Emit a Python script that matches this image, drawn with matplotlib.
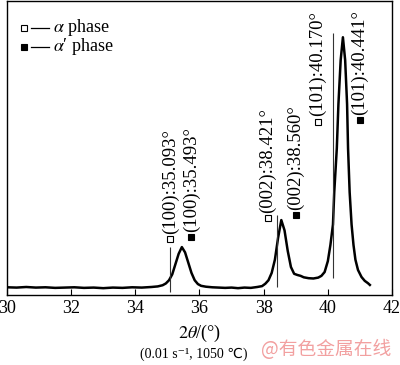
import matplotlib
matplotlib.use("Agg")
import matplotlib.pyplot as plt
import numpy as np

# XRD pattern (2theta in degrees, intensity in arbitrary units)
two_theta = [30.0, 30.3, 30.6, 30.9, 31.2, 31.5, 31.8, 32.1, 32.4, 32.7, 33.0, 33.3,
             33.6, 33.9, 34.2, 34.5, 34.7, 34.85, 34.95, 35.05, 35.15, 35.25, 35.35,
             35.45, 35.55, 35.65, 35.75, 35.85, 35.95, 36.05, 36.2, 36.4, 36.6, 36.8,
             37.0, 37.2, 37.4, 37.6, 37.8, 37.95, 38.05, 38.15, 38.25, 38.35, 38.45,
             38.55, 38.65, 38.75, 38.85, 38.95, 39.05, 39.15, 39.25, 39.4, 39.55, 39.7,
             39.8, 39.9, 40.0, 40.08, 40.16, 40.2, 40.28, 40.33, 40.4, 40.47, 40.54,
             40.6, 40.63, 40.68, 40.74, 40.8, 40.86, 40.94, 41.05, 41.15, 41.25, 41.31]
intensity = [2.6, 2.5, 2.7, 2.5, 2.6, 2.4, 2.5, 2.6, 2.4, 2.5, 2.3, 2.5,
             2.4, 2.6, 2.5, 2.7, 2.9, 3.3, 3.9, 5.0, 7.0, 10.5, 14.0,
             16.3, 14.5, 11.0, 7.5, 5.0, 3.7, 3.1, 2.8, 2.6, 2.5, 2.4,
             2.5, 2.3, 2.5, 2.4, 2.7, 3.0, 3.8, 5.0, 7.5, 12.0, 19.5,
             25.5, 22.0, 15.0, 9.5, 7.2, 6.8, 6.5, 6.0, 5.7, 5.6, 5.9,
             6.5, 7.8, 11.5, 17.0, 24.0, 35.0, 50.0, 65.0, 80.0, 87.8, 80.0,
             65.0, 50.0, 35.0, 24.0, 17.0, 12.0, 8.5, 6.1, 4.8, 4.0, 3.4]

# reference peak positions: (position, line bottom, line top)
ref_pos = [35.093, 38.421, 40.170]
ref_bottom = [0.9, 2.7, 5.8]
ref_top = [16.3, 27.2, 89.1]

# peak labels
label_text = ["(100):35.093°", "(100):35.493°", "(002):38.421°",
              "(002):38.560°", "(101):40.170°", "(101):40.441°"]
label_x = [35.09, 35.74, 38.13, 39.0, 39.68, 41.0]
label_y = [19.0, 19.7, 26.2, 27.2, 59.0, 59.6]
label_filled = [False, True, False, True, False, True]

plt.rcParams['font.family'] = ['Liberation Serif', 'DejaVu Sans']
plt.rcParams['mathtext.fontset'] = 'stix'

fig = plt.figure(figsize=(4.0, 3.65), dpi=100)
ax = fig.add_axes([0.0175, 0.192, 0.9625, 0.804])

ax.plot(two_theta, intensity, color='black', lw=1.8, solid_joinstyle='round')
ax.vlines(ref_pos, ref_bottom, ref_top, color='#333333', lw=0.8)

for txt, x, y, filled in zip(label_text, label_x, label_y, label_filled):
    ax.plot(x, y, 's', ms=4.2, mec='black', mew=0.8,
            mfc='black' if filled else 'white', clip_on=False)
    ax.text(x, y + 1.8, txt, rotation=90, ha='center', va='bottom', fontsize=13.5)

# legend drawn by hand: square, short line, label
legend_rows = [(91.0, False, r'$\alpha$ phase'), (84.6, True, r"$\alpha$′ phase")]
for y, filled, txt in legend_rows:
    ax.plot(30.52, y, 's', ms=4.2, mec='black', mew=0.8, mfc='black' if filled else 'white')
    ax.plot([30.76, 31.32], [y, y], color='black', lw=0.9)
    ax.text(31.42, y, txt, va='center', ha='left', fontsize=13)

ax.set_xlim(30, 42)
ax.set_ylim(0, 100)
ax.set_xticks(np.arange(30, 43, 2))
ax.set_yticks([])
ax.tick_params(axis='x', direction='in', length=4, width=0.8, labelsize=13, pad=4)
for s in ax.spines.values():
    s.set_linewidth(1.0)

fig.text(0.5, 0.087, r'$2\theta$/(°)', ha='center', va='center', fontsize=13)
fig.text(0.485, 0.030, '(0.01 s⁻¹, 1050 ℃)', ha='center', va='center', fontsize=10,
         family=['Liberation Serif', 'DejaVu Sans', 'Noto Sans CJK SC'])
fig.text(0.815, 0.042, '@有色金属在线', ha='center', va='center', fontsize=13.5,
         color='#f2a0a0', family=['Noto Sans CJK SC', 'DejaVu Sans'])

fig.savefig('out.png', dpi=100)
